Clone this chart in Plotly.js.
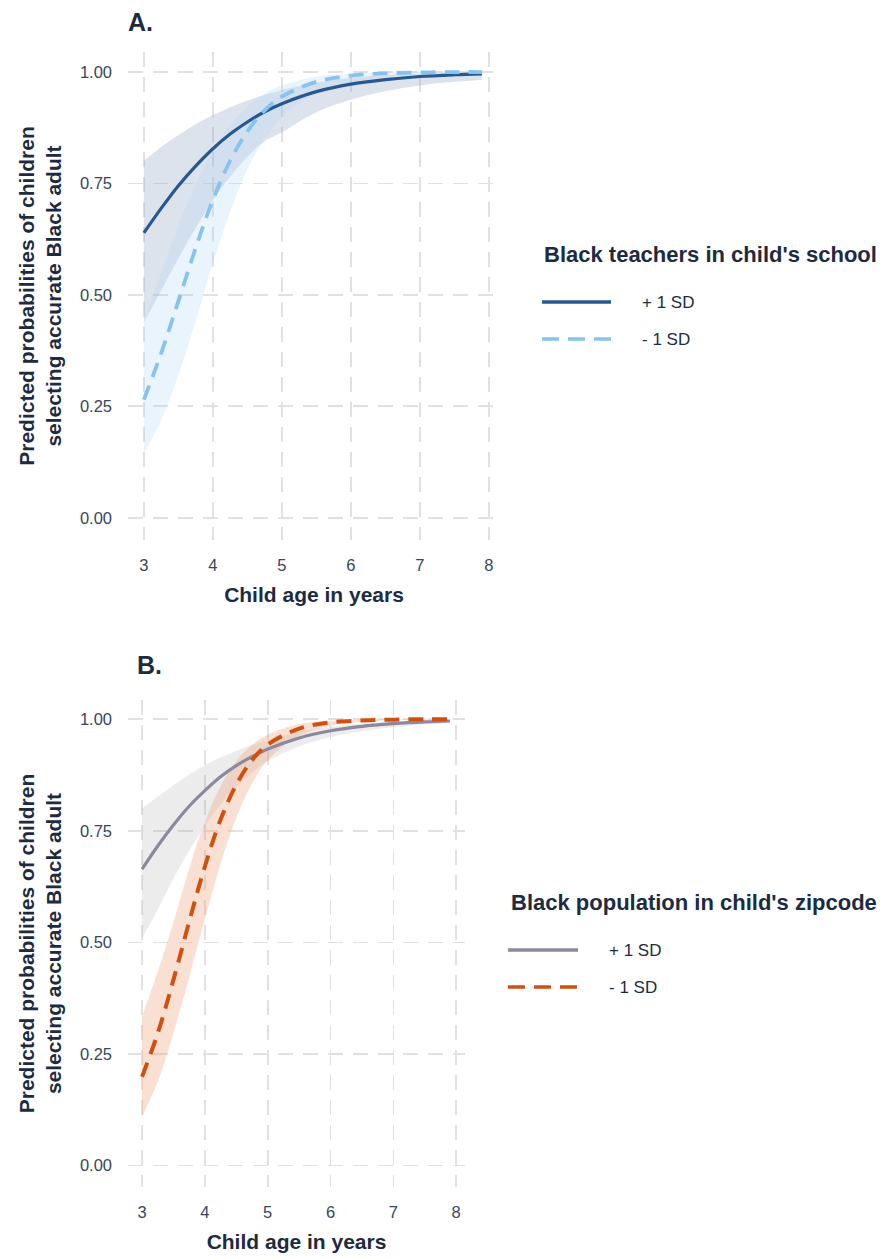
<!DOCTYPE html>
<html>
<head>
<meta charset="utf-8">
<script src="https://cdn.plot.ly/plotly-3.0.1.min.js"></script>
<style>html,body{margin:0;padding:0;background:#fff;}#chart{width:883px;height:1259px;}</style>
</head>
<body>
<div id="chart"></div>
<script>
// ---- data ----
const ages = [3, 3.25, 3.5, 3.75, 4, 4.25, 4.5, 4.75, 5, 5.5, 6, 6.5, 7, 7.5, 7.9];
const xTicks = [3, 4, 5, 6, 7, 8];
const yTicks = [0, 0.25, 0.5, 0.75, 1];
const yTickText = ["0.00", "0.25", "0.50", "0.75", "1.00"];

// Panel A: Black teachers in child's school
const teachHigh   = [0.639,0.694,0.745,0.789,0.828,0.861,0.888,0.911,0.929,0.956,0.973,0.983,0.990,0.994,0.996];
const teachHighLo = [0.438,0.510,0.582,0.650,0.713,0.765,0.810,0.845,0.865,0.910,0.938,0.957,0.970,0.978,0.983];
const teachHighHi = [0.801,0.832,0.859,0.883,0.903,0.921,0.936,0.949,0.960,0.976,0.987,0.993,0.996,0.998,0.999];
const teachLow    = [0.265,0.369,0.486,0.605,0.713,0.801,0.867,0.914,0.945,0.978,0.992,0.997,0.999,1.000,1.000];
const teachLowLo  = [0.143,0.219,0.320,0.442,0.572,0.686,0.782,0.850,0.899,0.953,0.977,0.989,0.995,0.998,0.999];
const teachLowHi  = [0.438,0.549,0.656,0.748,0.822,0.881,0.922,0.952,0.970,0.990,0.997,0.999,1.000,1.000,1.000];

// Panel B: Black population in child's zipcode
const zipHigh   = [0.664,0.716,0.763,0.805,0.840,0.871,0.896,0.916,0.933,0.958,0.974,0.984,0.990,0.994,0.996];
const zipHighLo = [0.510,0.573,0.643,0.706,0.761,0.809,0.849,0.880,0.906,0.939,0.960,0.973,0.982,0.988,0.991];
const zipHighHi = [0.800,0.826,0.852,0.876,0.897,0.914,0.929,0.942,0.953,0.972,0.983,0.990,0.994,0.997,0.998];
const zipLow    = [0.199,0.296,0.416,0.546,0.670,0.775,0.853,0.908,0.943,0.979,0.993,0.997,0.999,1.000,1.000];
const zipLowLo  = [0.110,0.188,0.297,0.422,0.552,0.676,0.779,0.856,0.908,0.963,0.985,0.994,0.998,0.999,1.000];
const zipLowHi  = [0.334,0.434,0.545,0.665,0.770,0.850,0.906,0.942,0.965,0.989,0.996,0.999,1.000,1.000,1.000];

const seriesLabels = ["+ 1 SD", "- 1 SD"];
const legendTitleA = "Black teachers in child's school";
const legendTitleB = "Black population in child's zipcode";

// ---- styling ----
const FONT = "Liberation Sans, Arial, Helvetica, sans-serif";
const TXT = "#1d2b42";
const TICK = "#37465c";
const cDarkBlue = "#285890", cLightBlue = "#86c3ee", cGrayPurple = "#8d889c", cOrange = "#d2500f";
const fDarkBlue = "rgba(150,168,198,0.32)", fLightBlue = "rgba(175,212,246,0.26)";
const fGray = "rgba(170,170,175,0.22)", fOrange = "rgba(236,160,115,0.32)";

// pixel helpers for layout placement (plot area: l=128, t=52, r=500, b=1187)
const L = 128, T = 52, Rr = 500, B = 1187;
const PX = p => (p - L) / (Rr - L);
const PY = p => (B - p) / (B - T);

function band(x, lo, hi, fill, xa, ya) {
  return [
    {x: x, y: lo, type: "scatter", mode: "lines", line: {width: 0, shape: "spline"}, xaxis: xa, yaxis: ya, hoverinfo: "skip", showlegend: false},
    {x: x, y: hi, type: "scatter", mode: "lines", line: {width: 0, shape: "spline"}, fill: "tonexty", fillcolor: fill, xaxis: xa, yaxis: ya, hoverinfo: "skip", showlegend: false}
  ];
}
function line(x, y, color, dash, width, name, xa, ya) {
  return {x: x, y: y, type: "scatter", mode: "lines", name: name, line: {color: color, width: width, dash: dash, shape: "spline"}, xaxis: xa, yaxis: ya, showlegend: false};
}

const traces = [].concat(
  band(ages, teachHighLo, teachHighHi, fDarkBlue, "x", "y"),
  band(ages, teachLowLo, teachLowHi, fLightBlue, "x", "y"),
  [line(ages, teachHigh, cDarkBlue, "solid", 3.2, seriesLabels[0], "x", "y"),
   line(ages, teachLow, cLightBlue, "15px,9px", 3.8, seriesLabels[1], "x", "y")],
  band(ages, zipHighLo, zipHighHi, fGray, "x2", "y2"),
  band(ages, zipLowLo, zipLowHi, fOrange, "x2", "y2"),
  [line(ages, zipHigh, cGrayPurple, "solid", 3.2, seriesLabels[0], "x2", "y2"),
   line(ages, zipLow, cOrange, "15px,9px", 4, seriesLabels[1], "x2", "y2")]
);

const gridCommon = {
  showgrid: true, gridcolor: "#e1e1e1", gridwidth: 1.7, griddash: "15px,10px",
  zeroline: false, showline: false, ticks: "",
  tickfont: {family: FONT, size: 16.5, color: TICK}
};
const xTitle = {text: "<b>Child age in years</b>", font: {family: FONT, size: 21, color: TXT}, standoff: 14};
const yTitle = {text: "<b>Predicted probabilities of children<br>selecting accurate Black adult</b>", font: {family: FONT, size: 21, color: TXT}, standoff: 12};

const layout = {
  width: 883, height: 1259,
  margin: {l: 128, r: 883 - 500, t: 52, b: 1259 - 1187},
  paper_bgcolor: "#ffffff", plot_bgcolor: "#ffffff",
  showlegend: false,
  font: {family: FONT, color: TXT},
  xaxis: Object.assign({}, gridCommon, {domain: [0, 1], range: [2.77, 8.16], tickvals: xTicks, anchor: "y", ticklabelstandoff: 13, title: xTitle}),
  yaxis: Object.assign({}, gridCommon, {domain: [PY(540), 1], range: [-0.05, 1.045], tickvals: yTicks, ticktext: yTickText, anchor: "x", ticklabelstandoff: 15, title: yTitle}),
  xaxis2: Object.assign({}, gridCommon, {domain: [0, PX(465)], range: [2.777, 8.14], tickvals: xTicks, anchor: "y2", ticklabelstandoff: 13, title: xTitle}),
  yaxis2: Object.assign({}, gridCommon, {domain: [0, PY(700)], range: [-0.048, 1.043], tickvals: yTicks, ticktext: yTickText, anchor: "x2", ticklabelstandoff: 15, title: yTitle}),
  annotations: [
    {text: "<b>A.</b>", xref: "paper", yref: "paper", x: PX(126), y: PY(22), xanchor: "left", yanchor: "middle", showarrow: false, font: {family: FONT, size: 25, color: TXT}},
    {text: "<b>B.</b>", xref: "paper", yref: "paper", x: PX(135), y: PY(665), xanchor: "left", yanchor: "middle", showarrow: false, font: {family: FONT, size: 25, color: TXT}},
    {text: "<b>" + legendTitleA + "</b>", xref: "paper", yref: "paper", x: PX(542), y: PY(254), xanchor: "left", yanchor: "middle", showarrow: false, font: {family: FONT, size: 22, color: TXT}},
    {text: seriesLabels[0], xref: "paper", yref: "paper", x: PX(640), y: PY(302), xanchor: "left", yanchor: "middle", showarrow: false, font: {family: FONT, size: 17, color: TXT}},
    {text: seriesLabels[1], xref: "paper", yref: "paper", x: PX(640), y: PY(339), xanchor: "left", yanchor: "middle", showarrow: false, font: {family: FONT, size: 17, color: TXT}},
    {text: "<b>" + legendTitleB + "</b>", xref: "paper", yref: "paper", x: PX(509), y: PY(902), xanchor: "left", yanchor: "middle", showarrow: false, font: {family: FONT, size: 22, color: TXT}},
    {text: seriesLabels[0], xref: "paper", yref: "paper", x: PX(607), y: PY(950), xanchor: "left", yanchor: "middle", showarrow: false, font: {family: FONT, size: 17, color: TXT}},
    {text: seriesLabels[1], xref: "paper", yref: "paper", x: PX(607), y: PY(987), xanchor: "left", yanchor: "middle", showarrow: false, font: {family: FONT, size: 17, color: TXT}}
  ],
  shapes: [
    {type: "line", xref: "paper", yref: "paper", x0: PX(542), x1: PX(611), y0: PY(302), y1: PY(302), line: {color: cDarkBlue, width: 3.5}},
    {type: "line", xref: "paper", yref: "paper", x0: PX(542), x1: PX(611), y0: PY(339), y1: PY(339), line: {color: cLightBlue, width: 3.5, dash: "17px,9px"}},
    {type: "line", xref: "paper", yref: "paper", x0: PX(508), x1: PX(578), y0: PY(950), y1: PY(950), line: {color: cGrayPurple, width: 3.5}},
    {type: "line", xref: "paper", yref: "paper", x0: PX(508), x1: PX(578), y0: PY(987), y1: PY(987), line: {color: cOrange, width: 3.5, dash: "17px,9px"}}
  ]
};

Plotly.newPlot("chart", traces, layout, {displayModeBar: false, staticPlot: true});
</script>
</body>
</html>
